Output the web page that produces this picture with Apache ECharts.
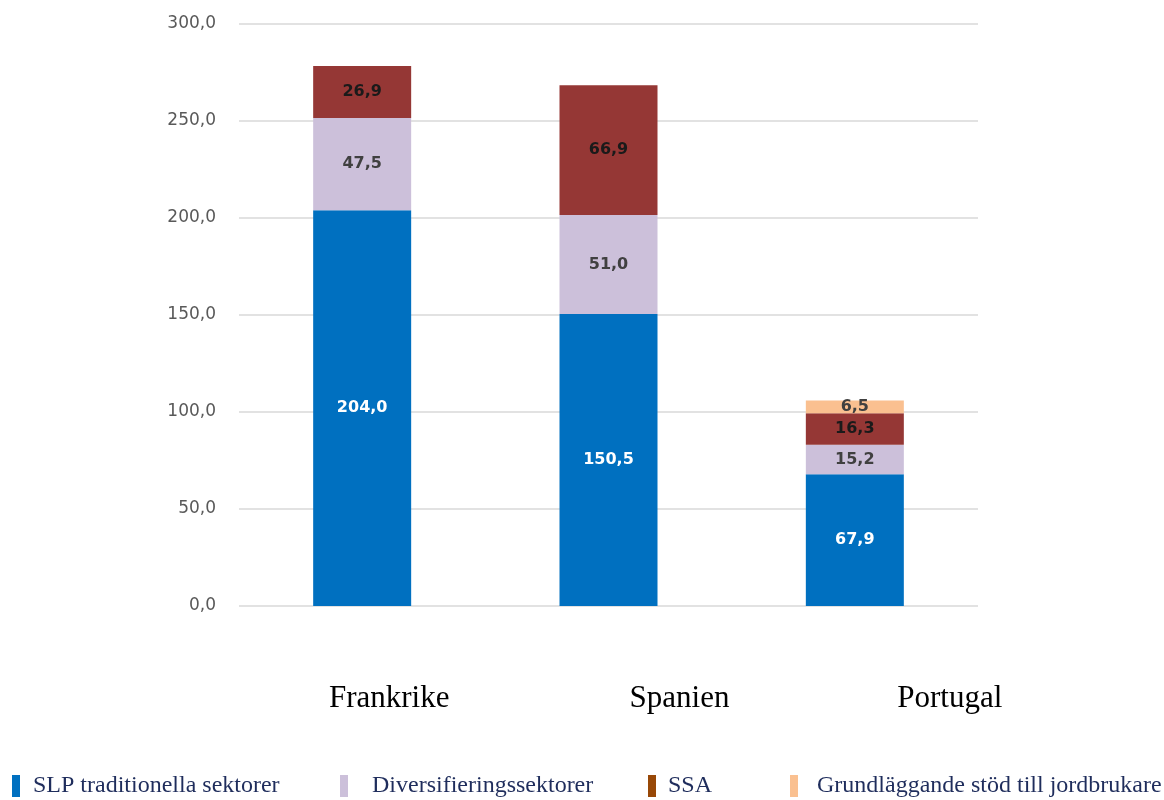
<!DOCTYPE html>
<html>
<head>
<meta charset="utf-8">
<script src="https://cdn.jsdelivr.net/npm/echarts@6/dist/echarts.min.js"></script>
<style>
  html, body { margin: 0; padding: 0; background: #fff; }
  #chart { width: 1164px; height: 800px; }
</style>
</head>
<body>
<div id="chart"></div>
<script>
const countries = ['Frankrike', 'Spanien', 'Portugal'];
const slp = [204.0, 150.5, 67.9];
const diversifiering = [47.5, 51.0, 15.2];
const ssa = [26.9, 66.9, 16.3];
const grundlaggande = [null, null, 6.5];
const yTicks = [0, 50, 100, 150, 200, 250, 300];

// label shifts so the country names sit where the original has them
const labelShift = { Frankrike: 27, Spanien: 71, Portugal: 95 };

const fmt = v => v.toFixed(1).replace('.', ',');

function barSeries(name, data, color, labelColor) {
  return {
    name: name,
    type: 'bar',
    stack: 'total',
    data: data,
    barWidth: 98,
    itemStyle: { color: color },
    label: {
      show: true,
      position: 'inside',
      color: labelColor,
      fontFamily: 'DejaVu Sans',
      fontWeight: 'bold',
      fontSize: 16,
      formatter: p => fmt(p.value)
    }
  };
}

function legendAt(left, name, markColor, gap) {
  return {
    left: left,
    top: 769,
    icon: 'rect',
    itemWidth: 8,
    itemHeight: 22,
    selectedMode: false,
    data: [{ name: name, itemStyle: { color: markColor } }],
    textStyle: {
      color: '#1F2D5C',
      fontFamily: 'Liberation Serif',
      fontSize: 24,
      padding: [0, 0, 0, gap]
    }
  };
}

const chart = echarts.init(document.getElementById('chart'));
chart.setOption({
  animation: false,
  grid: { left: 239, right: 186, top: 24, bottom: 194 },
  legend: [
    legendAt(7, 'SLP traditionella sektorer', '#0070C0', 8),
    legendAt(335, 'Diversifieringssektorer', '#CCC0DA', 19),
    legendAt(643, 'SSA', '#984807', 7),
    legendAt(785, 'Grundläggande stöd till jordbrukare', '#FAC090', 14)
  ],
  xAxis: {
    type: 'category',
    data: countries,
    axisLine: { show: false },
    axisTick: { show: false },
    axisLabel: {
      margin: 77,
      formatter: v => '{' + v + '|' + v + '}',
      rich: Object.fromEntries(countries.map(c => [c, {
        fontFamily: 'Liberation Serif',
        fontSize: 31,
        color: '#000',
        padding: [0, 0, 0, labelShift[c] * 2]
      }]))
    }
  },
  yAxis: {
    type: 'value',
    min: yTicks[0],
    max: yTicks[yTicks.length - 1],
    interval: 50,
    axisLine: { show: false },
    axisTick: { show: false },
    splitLine: { lineStyle: { color: '#D9D9D9', width: 1.5 } },
    axisLabel: {
      margin: 23,
      color: '#595959',
      fontFamily: 'DejaVu Sans',
      fontSize: 17,
      formatter: v => fmt(v)
    }
  },
  series: [
    barSeries('SLP traditionella sektorer', slp, '#0070C0', '#FFFFFF'),
    barSeries('Diversifieringssektorer', diversifiering, '#CCC0DA', '#404040'),
    barSeries('SSA', ssa, '#953735', '#1A1A1A'),
    barSeries('Grundläggande stöd till jordbrukare', grundlaggande, '#FAC090', '#404040')
  ]
});
</script>
</body>
</html>
